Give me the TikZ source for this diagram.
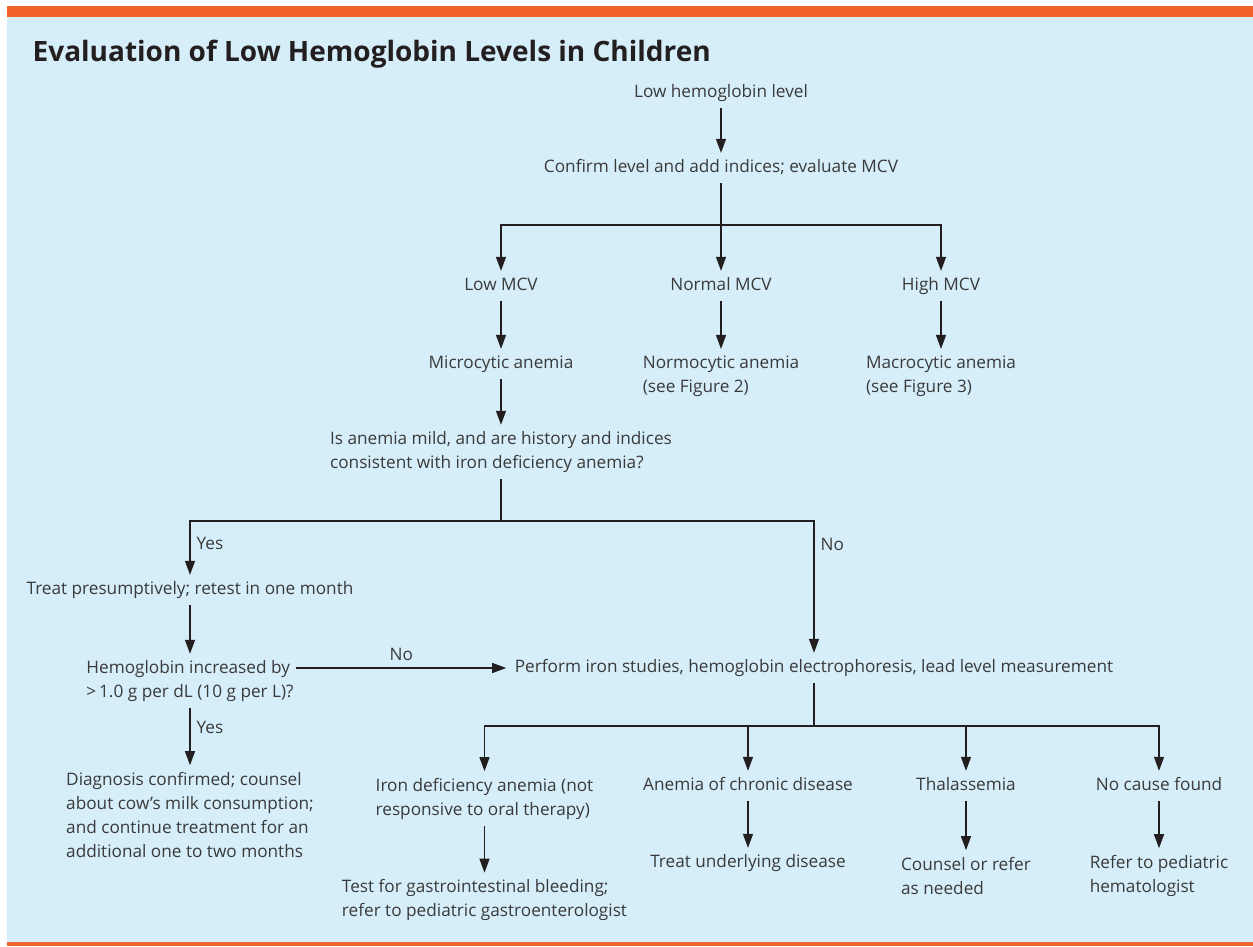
\documentclass[tikz,border=0pt]{standalone}
\usepackage{fontspec}
\setmainfont{Open Sans}
\usetikzlibrary{arrows.meta,positioning}
\definecolor{panelblue}{HTML}{D6EEF9}
\definecolor{barorange}{HTML}{F2632C}
\definecolor{ink}{HTML}{231F20}
\definecolor{txt}{HTML}{3A3A3A}
\tikzset{
    every picture/.style={
        x=1pt,y=-1pt,line width=1.3pt,color=ink,>={Triangle[length=14pt,width=10pt]},
        on grid,node distance=75pt,
        every node/.style={text=txt,inner xsep=2pt,inner ysep=6pt,font=\fontsize{17.2}{24}\selectfont},
        tag/.style={text height=13pt,text depth=4pt},
        block/.style={align=left},
        lbl/.style={inner sep=0pt}
    }
}

\begin{document}
\begin{tikzpicture}
    \useasboundingbox (0,0) rectangle (1253,946);
    \fill[white] (0,0) rectangle (1253,946);
    \fill[barorange] (7,6) rectangle (1253,17);
    \fill[panelblue] (7,17) rectangle (1253,942);
    \fill[barorange] (7,942) rectangle (1253,946);

    \node[anchor=base west,inner sep=0pt,text=ink,font=\bfseries\fontsize{28}{34}\selectfont] (title) at (32,61) {Evaluation of Low Hemoglobin Levels in Children};

    \node[tag]   (top)      at (721,93) {Low hemoglobin level};
    \node[tag]   (conf)     [below=of top] {Confirm level and add indices; evaluate MCV};
    \coordinate[below=57pt of conf] (mcvsplit);
    \node[tag]   (normmcv)  [below=118pt of conf] {Normal MCV};
    \node[tag]   (lowmcv)   [left=220pt of normmcv] {Low MCV};
    \node[tag]   (highmcv)  [right=220pt of normmcv] {High MCV};
    \node[tag]   (micro)    [below=78pt of lowmcv] {Microcytic anemia};
    \node[block] (normo)    [below=90pt of normmcv] {Normocytic anemia\\(see Figure 2)};
    \node[block] (macro)    [below=90pt of highmcv] {Macrocytic anemia\\(see Figure 3)};
    \node[block] (mild)     [below=88pt of micro] {Is anemia mild, and are history and indices\\consistent with iron deficiency anemia?};
    \coordinate[below=69pt of mild] (mildsplit);
    \node[tag]   (treat)    [below left=138pt and 311pt of mild] {Treat presumptively; retest in one month};
    \node[block] (hemo)     [below=91pt of treat] {Hemoglobin increased by\\{>}\,1.0 g per dL (10 g per L)?};
    \node[block] (diag)     [below=133.5pt of hemo] {Diagnosis confirmed; counsel\\about cow’s milk consumption;\\and continue treatment for an\\additional one to two months};
    \node[tag,inner xsep=8pt] (perform) [below right=216pt and 313pt of mild] {Perform iron studies, hemoglobin electrophoresis, lead level measurement};
    \coordinate[below=58pt of perform] (causesplit);
    \node[tag]   (chronic)  [below left=118pt and 66pt of perform] {Anemia of chronic disease};
    \node[block] (irondef)  [below left=12.5pt and 263.5pt of chronic] {Iron deficiency anemia (not\\responsive to oral therapy)};
    \node[tag]   (thal)     [right=218pt of chronic] {Thalassemia};
    \node[tag]   (nocause)  [right=193pt of thal] {No cause found};
    \node[block] (gi)       [below=101.5pt of irondef] {Test for gastrointestinal bleeding;\\refer to pediatric gastroenterologist};
    \node[tag]   (underlying) [below=77pt of chronic] {Treat underlying disease};
    \node[block] (counsel)  [below=89.5pt of thal] {Counsel or refer\\as needed};
    \node[block] (refer)    [below=89.5pt of nocause] {Refer to pediatric\\hematologist};

    \path[->] (top)     edge (conf)
              (conf)    edge (normmcv)
              (lowmcv)  edge (micro)
              (normmcv) edge (normo)
              (highmcv) edge (macro)
              (micro)   edge (mild)
              (treat)   edge (hemo)
              (hemo)    edge node[lbl,pos=.33,right=6pt] {Yes} (diag)
              (irondef) edge (gi)
              (chronic) edge (underlying)
              (thal)    edge (counsel)
              (nocause) edge (refer);

    \draw (conf) -- (mcvsplit);
    \draw[->] (mcvsplit) -| (lowmcv);
    \draw[->] (mcvsplit) -| (highmcv);
    \draw (mild) -- (mildsplit);
    \draw[->] (mildsplit) -| node[lbl,pos=.71,right=6pt] {Yes} (treat);
    \draw[->] (mildsplit) -| node[lbl,pos=.59,right=6pt] {No} (perform);
    \draw[->] (hemo.east |- perform) -- node[lbl,above=7pt] {No} (perform);
    \draw (perform) -- (causesplit);
    \draw[->] (causesplit) -| (irondef);
    \draw[->] (causesplit) -| (chronic);
    \draw[->] (causesplit) -| (thal);
    \draw[->] (causesplit) -| (nocause);
\end{tikzpicture}
\end{document}
